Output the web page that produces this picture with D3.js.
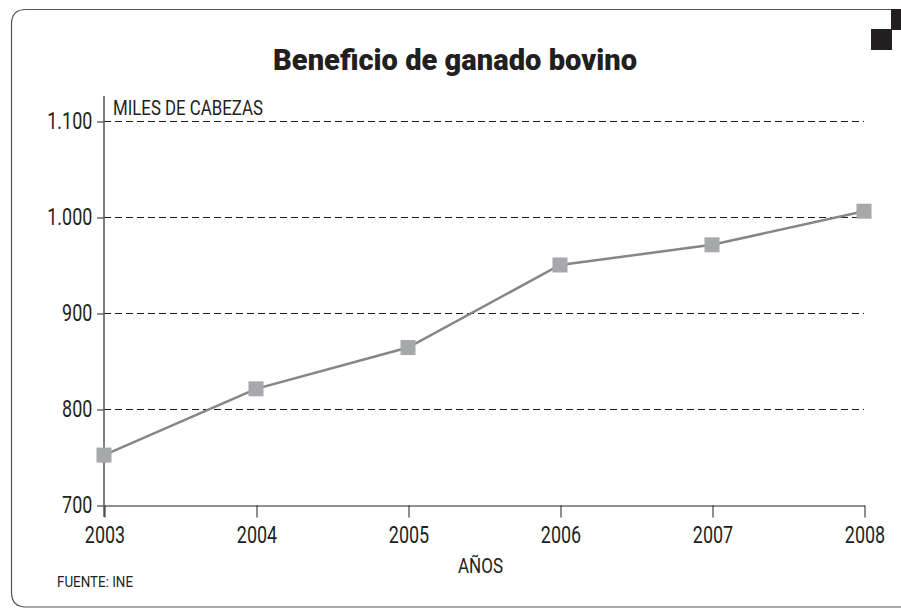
<!DOCTYPE html>
<html>
<head>
<meta charset="utf-8">
<script src="https://cdn.jsdelivr.net/npm/d3@7"></script>
<style>
  body { margin: 0; background: #fff; }
  text { fill: #231f20; font-family: Roboto, sans-serif; }
</style>
</head>
<body>
<div id="chart"></div>
<script>
// --- données ---
const years = ["2003", "2004", "2005", "2006", "2007", "2008"];
const values = [752, 821, 864, 950, 971, 1006];
const yTicks = [700, 800, 900, 1000, 1100];

const width = 901, height = 608;
const margin = { left: 104, right: 37, top: 121, bottom: 103 };
const narrow = 0.78; // police "condensée" simulée

const svg = d3.select("#chart").append("svg")
    .attr("width", width)
    .attr("height", height);

// cadre arrondi
svg.append("path")
    .attr("d", "M897,9.5 L26,9.5 Q11.5,9.5 11.5,24 L11.5,592 Q11.5,607 26,607 L901,607")
    .attr("fill", "none")
    .attr("stroke", "#555")
    .attr("stroke-width", 1.2);

// petits carrés noirs en haut à droite
svg.append("rect").attr("x", 891).attr("y", 9).attr("width", 10).attr("height", 21).attr("fill", "#231f20");
svg.append("rect").attr("x", 871).attr("y", 29).attr("width", 21).attr("height", 21).attr("fill", "#231f20");

const x = d3.scalePoint()
    .domain(years)
    .range([margin.left, width - margin.right]);

const y = d3.scaleLinear()
    .domain([700, 1100])
    .range([height - margin.bottom, margin.top]);

// titre
svg.append("text")
    .attr("x", 455)
    .attr("y", 70)
    .attr("text-anchor", "middle")
    .attr("textLength", 364)
    .attr("lengthAdjust", "spacingAndGlyphs")
    .style("font-weight", "900")
    .style("font-size", "30px")
    .text("Beneficio de ganado bovino");

// grille pointillée
svg.append("g")
    .selectAll("line")
    .data(yTicks.filter(d => d > 700))
    .join("line")
    .attr("x1", margin.left)
    .attr("x2", width - margin.right)
    .attr("y1", d => y(d) + 0.5)
    .attr("y2", d => y(d) + 0.5)
    .attr("stroke", "#231f20")
    .attr("stroke-width", 1)
    .attr("stroke-dasharray", "7,4");

// axe Y
const yAxis = svg.append("g")
    .attr("transform", `translate(${margin.left},0.5)`)
    .call(d3.axisLeft(y).tickValues(yTicks).tickSize(7).tickPadding(8)
        .tickFormat(d => d3.format(",")(d).replace(",", ".")));
yAxis.select(".domain").remove();
yAxis.selectAll("line").attr("stroke", "#231f20");
yAxis.selectAll("text")
    .attr("transform", `scale(${narrow},1)`)
    .style("font-size", "23px")
    .attr("fill", "#231f20");

svg.append("line")
    .attr("x1", margin.left).attr("x2", margin.left)
    .attr("y1", 96).attr("y2", height - margin.bottom + 12)
    .attr("stroke", "#555").attr("stroke-width", 1.5);

// axe X
const xAxis = svg.append("g")
    .attr("transform", `translate(0.5,${height - margin.bottom + 0.5})`)
    .call(d3.axisBottom(x).tickSize(12).tickPadding(9).tickSizeOuter(0));
xAxis.select(".domain").attr("stroke", "#231f20");
xAxis.selectAll("line").attr("stroke", "#231f20");
xAxis.selectAll("text")
    .attr("transform", `scale(${narrow},1)`)
    .style("font-size", "23px")
    .attr("fill", "#231f20");
xAxis.selectAll(".tick text").attr("x", 0);

// étiquettes
svg.append("text")
    .attr("x", 113).attr("y", 115)
    .attr("textLength", 150)
    .attr("lengthAdjust", "spacingAndGlyphs")
    .style("font-size", "21px")
    .text("MILES DE CABEZAS");

svg.append("text")
    .attr("x", 458).attr("y", 573)
    .attr("textLength", 45)
    .attr("lengthAdjust", "spacingAndGlyphs")
    .style("font-size", "21px")
    .text("AÑOS");

svg.append("text")
    .attr("x", 57).attr("y", 587)
    .attr("textLength", 76)
    .attr("lengthAdjust", "spacingAndGlyphs")
    .style("font-size", "15px")
    .text("FUENTE: INE");

// ligne
const line = d3.line()
    .x((d, i) => x(years[i]))
    .y(d => y(d));

svg.append("path")
    .datum(values)
    .attr("d", line)
    .attr("fill", "none")
    .attr("stroke", "#858689")
    .attr("stroke-width", 2.5);

// marqueurs carrés
const s = 15;
svg.append("g")
    .selectAll("rect")
    .data(values)
    .join("rect")
    .attr("x", (d, i) => x(years[i]) - s / 2)
    .attr("y", d => y(d) - s / 2)
    .attr("width", s)
    .attr("height", s)
    .attr("fill", "#a7a8ab");
</script>
</body>
</html>
